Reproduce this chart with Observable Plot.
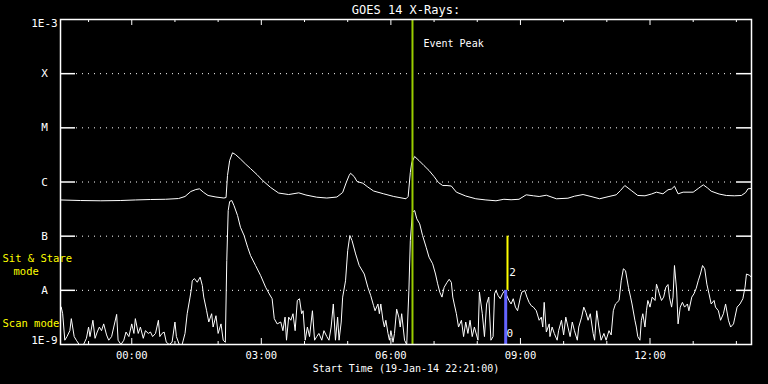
<!DOCTYPE html>
<html><head><meta charset="utf-8">
<script src="https://cdn.jsdelivr.net/npm/d3@7"></script>
<script src="https://cdn.jsdelivr.net/npm/@observablehq/plot@0.6"></script>
<style>
html,body{margin:0;padding:0;background:#000;}
#chart{width:768px;height:384px;overflow:hidden;}
</style></head><body><div id="chart"></div>
<script>
// ---------------- data ----------------
const title = "GOES 14 X-Rays:";
const xLabel = "Start Time (19-Jan-14 22:21:00)";
const startTime = "2014-01-19T22:21:00Z";
const spanMinutes = 960;
const decadeValues = [1e-9, 1e-8, 1e-7, 1e-6, 1e-5, 1e-4, 1e-3];
const decadeLabels = ["1E-9", "A", "B", "C", "M", "X", "1E-3"];
const gridValues = [1e-8, 1e-7, 1e-6, 1e-5, 1e-4];
const peakLabel = "Event Peak";
const peakMinute = 489;
const modeNames = ["Sit & Stare", "mode", "Scan mode"];
const modeMarkerLabels = ["0", "2"];          // scan (0), sit & stare (2)
const modeMarkerMinutes = [618.5, 621];
const modeMarkerLow = [1e-9, 1e-8];
const modeMarkerHigh = [1e-8, 1e-7];

// long channel (1-8 A), minutes after start, W/m^2
const longMin = [0,28,56,83,104,125,146,164,173,181,
188,193,199,205,216,227,230,232,235,239,
243,250,257,264,273,281,292,303,317,331,
341,356,370,384,392,397,401,403,408,412,
420,427,435,449,463,480,483,486,488,492,
498,505,512,519,525,531,537,543,550,563,
577,591,605,616,626,637,647,657,665,675,
689,705,714,726,737,749,762,772,778,784,
793,802,812,821,828,837,844,849,853,858,
865,879,886,893,899,904,915,925,936,946,
952,955,960];
const longFlux = [4.66e-7,4.55e-7,4.5e-7,4.55e-7,4.66e-7,4.75e-7,4.8e-7,4.95e-7,5.4e-7,6.67e-7,
7.26e-7,7.48e-7,6.4e-7,5.64e-7,5.28e-7,5.06e-7,5.17e-7,1.32e-6,2.49e-6,3.46e-6,
3.22e-6,2.66e-6,2.15e-6,1.77e-6,1.37e-6,1.06e-6,7.91e-7,6.26e-7,5.87e-7,6.31e-7,
5.75e-7,5.24e-7,5.06e-7,5.28e-7,6.4e-7,9.8e-7,1.32e-6,1.45e-6,1.26e-6,1.02e-6,
9.5e-7,8.07e-7,6.82e-7,6.05e-7,5.4e-7,4.9e-7,5.4e-7,1.5e-6,2.29e-6,2.96e-6,
2.49e-6,2.01e-6,1.63e-6,1.26e-6,9.8e-7,8.61e-7,8.61e-7,8.43e-7,6.49e-7,5.51e-7,
4.9e-7,4.66e-7,4.5e-7,4.8e-7,4.7e-7,4.8e-7,5.8e-7,5.56e-7,5.4e-7,5.7e-7,
4.9e-7,5.02e-7,5.47e-7,5.87e-7,5.4e-7,4.9e-7,5.4e-7,5.8e-7,6.97e-7,8.61e-7,
6.97e-7,5.64e-7,5.56e-7,6.0e-7,6.49e-7,6.05e-7,7.18e-7,7.43e-7,8.36e-7,6.05e-7,
6.49e-7,6.49e-7,7.59e-7,8.87e-7,7.74e-7,6.76e-7,6.0e-7,5.64e-7,5.56e-7,5.64e-7,
6.4e-7,7.48e-7,7.59e-7];

// short channel (0.5-4 A), minutes after start, W/m^2
const shortMin = [1,3,6,9,13,15,19,22,26,32,
36,39,41,45,48,51,54,57,60,64,
67,71,74,78,80,84,88,91,95,99,
102,104,108,111,115,118,122,125,128,132,
136,138,141,144,147,151,155,159,161,165,
169,173,176,180,182,183,186,190,194,197,
199,203,206,210,212,216,219,223,226,229,
231,233,235,238,241,246,250,255,260,264,
271,278,285,290,294,297,301,306,309,312,
314,317,320,323,326,329,332,335,337,340,
343,346,350,353,356,359,363,366,370,373,
376,379,382,385,387,390,392,396,399,402,
405,410,415,422,427,431,435,437,441,443,
445,448,450,452,455,457,459,462,464,467,
470,472,474,478,481,484,486,489,492,495,
499,503,508,512,517,521,524,527,530,533,
537,540,543,545,547,550,553,557,560,563,
566,569,572,575,580,582,586,589,592,595,
598,601,603,605,608,611,614,617,620,623,
626,629,632,635,639,641,645,648,651,654,
657,661,665,668,670,672,675,679,680,683,
686,690,692,696,699,702,705,708,711,714,
718,720,724,727,730,733,736,740,742,745,
748,751,755,758,762,765,768,771,776,779,
782,785,789,792,794,798,800,802,805,807,
809,812,814,816,819,822,826,828,830,832,
835,838,841,844,846,849,851,853,856,858,
861,864,867,871,873,877,880,883,886,889,
892,895,898,901,904,908,910,914,917,921,
924,928,931,935,937,940,944,948,951,953,
957,960];
const shortFlux = [4.9e-9,3.7e-9,1.2e-9,1.4e-9,1.8e-9,3.0e-9,1.4e-9,1.2e-9,1e-9,1e-9,
1.3e-9,2.1e-9,1.4e-9,2.8e-9,1.3e-9,1.7e-9,2.1e-9,1.8e-9,2.4e-9,1.5e-9,
1.2e-9,1.4e-9,2.1e-9,3.6e-9,1.2e-9,1e-9,1.2e-9,1.7e-9,1.4e-9,2.4e-9,
1.6e-9,3.0e-9,1.6e-9,2.1e-9,1.3e-9,1.8e-9,1.6e-9,1.7e-9,1.4e-9,1.6e-9,
2.8e-9,1.4e-9,1.6e-9,1.7e-9,1.1e-9,1e-9,1.1e-9,2.6e-9,1.4e-9,1e-9,
1e-9,1.6e-9,3.7e-9,7.5e-9,1.1e-8,1.5e-8,1.65e-8,1.41e-8,1.75e-8,1.23e-8,
7.5e-9,4.2e-9,2.6e-9,3.7e-9,2.1e-9,3.4e-9,1.6e-9,2.4e-9,1.2e-9,1.1e-9,
3.56e-8,2.97e-7,4.36e-7,4.55e-7,3.68e-7,2.4e-7,1.46e-7,1.03e-7,6.25e-8,4.4e-8,
2.87e-8,1.88e-8,1.14e-8,8.6e-9,7.0e-9,3.0e-9,2.4e-9,2.6e-9,1.8e-9,3.2e-9,
1.2e-9,3.2e-9,2.8e-9,3.7e-9,1.8e-9,6.5e-9,7.0e-9,3.7e-9,4.2e-9,1.2e-9,
2.1e-9,1.4e-9,4.2e-9,1.2e-9,1.4e-9,1.6e-9,1.2e-9,1.8e-9,1.4e-9,1.2e-9,
2.1e-9,5.6e-9,1.2e-9,3.2e-9,1.2e-9,2.6e-9,7.5e-9,1.5e-8,5.4e-8,1.03e-7,
8.3e-8,4.7e-8,2.87e-8,2.0e-8,1.14e-8,8.0e-9,5.2e-9,4.2e-9,5.6e-9,3.7e-9,
5.6e-9,2.8e-9,2.1e-9,2.8e-9,1.6e-9,1.2e-9,1.8e-9,1.1e-9,1.6e-9,4.5e-9,
3.2e-9,2.1e-9,3.7e-9,1.2e-9,1e-9,9.9e-9,8.3e-8,2.77e-7,2.97e-7,2.09e-7,
1.69e-7,1.03e-7,6.25e-8,4.09e-8,3.09e-8,2.0e-8,1.32e-8,9.2e-9,7.5e-9,1.14e-8,
1.4e-8,1.6e-8,1.4e-8,7.5e-9,5.6e-9,3.7e-9,2.1e-9,2.8e-9,1.4e-9,2.6e-9,
1.6e-9,2.8e-9,1.4e-9,2.1e-9,1.2e-9,9.3e-9,3.7e-9,1.4e-9,5.6e-9,7.5e-9,
1.2e-9,1.4e-9,8.6e-9,9.9e-9,8.0e-9,7.0e-9,8.6e-9,9.9e-9,8.0e-9,6.5e-9,
5.6e-9,7.0e-9,4.9e-9,4.2e-9,7.5e-9,9.3e-9,9.9e-9,7.5e-9,6.0e-9,5.2e-9,
4.9e-9,4.2e-9,2.8e-9,3.2e-9,2.1e-9,6.0e-9,1.7e-9,2.4e-9,1.4e-9,2.1e-9,
1.6e-9,1.2e-9,1.8e-9,2.8e-9,1.5e-9,3.2e-9,2.1e-9,1.4e-9,2.6e-9,1.8e-9,
1.2e-9,2.1e-9,3.2e-9,4.9e-9,3.9e-9,2.8e-9,3.7e-9,1.6e-9,1.2e-9,4.2e-9,
2.1e-9,1.2e-9,1.6e-9,1.2e-9,1.8e-9,1.5e-9,4.2e-9,5.6e-9,6.5e-9,1.5e-8,
2.5e-8,2.3e-8,1.14e-8,7.5e-9,5.6e-9,2.8e-9,2.1e-9,1.4e-9,1.2e-9,2.8e-9,
3.7e-9,2.1e-9,4.2e-9,6.5e-9,4.9e-9,7.5e-9,6.5e-9,1.3e-8,1.07e-8,8.6e-9,
6.5e-9,7.5e-9,1.14e-8,1.28e-8,7.5e-9,4.9e-9,7.5e-9,2.87e-8,9.9e-9,2.4e-9,
4.9e-9,6.0e-9,4.9e-9,5.6e-9,4.2e-9,7.5e-9,8.6e-9,1.07e-8,1.5e-8,2.0e-8,
2.87e-8,2.5e-8,1.3e-8,8.6e-9,5.6e-9,6.5e-9,4.9e-9,4.2e-9,2.8e-9,3.7e-9,
5.6e-9,2.8e-9,2.1e-9,2.4e-9,3.2e-9,4.9e-9,5.6e-9,7.0e-9,1.14e-8,2.0e-8,
1.9e-8,1.75e-8];

// ---------------- layout ----------------
const W = 768, H = 384, ML = 60, MR = 17, MT = 19, MB = 40;
const innerW = W - ML - MR, innerH = H - MT - MB;
const FONT = "'DejaVu Sans Mono', monospace";

const t0 = Date.parse(startTime);
const toDate = m => new Date(t0 + m * 60000);
const longData = longMin.map((m, i) => ({t: toDate(m), v: longFlux[i]}));
const shortData = shortMin.map((m, i) => ({t: toDate(m), v: shortFlux[i]}));
if (longMin.length !== longFlux.length || shortMin.length !== shortFlux.length) console.error("length mismatch");

const hours = d3.utcHour.range(toDate(0), toDate(spanMinutes + 1));
const majorHours = hours.filter(d => d.getUTCHours() % 3 === 0);
const minorHours = hours.filter(d => d.getUTCHours() % 3 !== 0);
const fmt = d3.utcFormat("%H:%M");
const peakDate = toDate(peakMinute);
const modeMarks = modeMarkerLabels.map((l, i) => ({label: l, t: toDate(modeMarkerMinutes[i]), lo: modeMarkerLow[i], hi: modeMarkerHigh[i]}));
const midDecades = decadeValues.slice(1, -1);
const midLabels = decadeLabels.slice(1, -1);
const LA = "middle";

const chart = Plot.plot({
  width: W, height: H,
  marginLeft: ML, marginRight: MR, marginTop: MT, marginBottom: MB,
  style: {background: "black", color: "white", fontFamily: FONT, fontSize: "10px"},
  x: {type: "utc", domain: [toDate(0), toDate(spanMinutes)], axis: null},
  y: {type: "log", domain: [decadeValues[0], decadeValues[decadeValues.length - 1]], axis: null},
  marks: [
    // dotted grid + solid end segments
    Plot.ruleY(gridValues, {y: d => d, stroke: "white", strokeWidth: 1, strokeDasharray: "1,5", insetLeft: 16, insetRight: 16}),
    Plot.tickY(gridValues, {y: d => d, stroke: "white", strokeWidth: 1.5, insetRight: innerW - 15}),
    Plot.tickY(gridValues, {y: d => d, stroke: "white", strokeWidth: 1.5, insetLeft: innerW - 15}),
    // time ticks (top and bottom, inward)
    Plot.tickX(minorHours, {x: d => d, stroke: "white", insetBottom: innerH - 3}),
    Plot.tickX(majorHours, {x: d => d, stroke: "white", insetBottom: innerH - 6}),
    Plot.tickX(minorHours, {x: d => d, stroke: "white", insetTop: innerH - 3}),
    Plot.tickX(majorHours, {x: d => d, stroke: "white", insetTop: innerH - 6}),
    // data
    Plot.line(longData, {x: "t", y: "v", stroke: "white", strokeWidth: 1, clip: true}),
    Plot.line(shortData, {x: "t", y: "v", stroke: "white", strokeWidth: 1, clip: true}),
    // event peak
    Plot.ruleX([peakDate], {x: d => d, stroke: "#99cc00", strokeWidth: 2}),
    Plot.text([peakLabel], {x: () => peakDate, frameAnchor: "top", lineAnchor: LA, dy: 24, dx: 11, textAnchor: "start", text: d => d, fill: "white", fontSize: 10}),
    // mode markers
    Plot.ruleX([modeMarks[0]], {x: "t", y1: "lo", y2: "hi", stroke: "#6464ff", strokeWidth: 3}),
    Plot.ruleX([modeMarks[1]], {x: "t", y1: "lo", y2: "hi", stroke: "#ffff00", strokeWidth: 2}),
    Plot.text([modeMarks[0]], {x: "t", y: () => 1.63e-9, dx: 4, text: "label", fill: "white", fontSize: 11}),
    Plot.text([modeMarks[1]], {x: "t", y: () => 2.15e-8, dx: 5, text: "label", fill: "white", fontSize: 11}),
    // frame
    Plot.frame({stroke: "white", strokeWidth: 1.5}),
    // y labels
    Plot.text(midDecades, {y: d => d, frameAnchor: "left", lineAnchor: LA, dx: -16, textAnchor: "middle", text: (d, i) => midLabels[i], fill: "white", fontSize: 11}),
    Plot.text([decadeValues[decadeValues.length - 1]], {y: d => d, frameAnchor: "left", lineAnchor: LA, dx: -16, dy: 4, textAnchor: "middle", text: () => decadeLabels[decadeLabels.length - 1], fill: "white", fontSize: 11}),
    Plot.text([decadeValues[0]], {y: d => d, frameAnchor: "left", lineAnchor: LA, dx: -16, dy: -4, textAnchor: "middle", text: () => decadeLabels[0], fill: "white", fontSize: 11}),
    // x labels
    Plot.text(majorHours, {x: d => d, frameAnchor: "bottom", lineAnchor: LA, dy: 11, text: d => fmt(d), fill: "white", fontSize: 10.5}),
    Plot.text([xLabel], {frameAnchor: "bottom", lineAnchor: LA, dy: 24, text: d => d, fill: "white", fontSize: 10}),
    Plot.text([title], {frameAnchor: "top", lineAnchor: LA, dy: -9.5, text: d => d, fill: "white", fontSize: 12}),
    // mode names (yellow)
    Plot.text([modeNames[0]], {frameAnchor: "bottom-left", lineAnchor: LA, dx: -58, dy: -86, textAnchor: "start", text: d => d, fill: "#ffff00", fontSize: 10.5}),
    Plot.text([modeNames[1]], {frameAnchor: "bottom-left", lineAnchor: LA, dx: -47, dy: -73, textAnchor: "start", text: d => d, fill: "#ffff00", fontSize: 10.5}),
    Plot.text([modeNames[2]], {frameAnchor: "bottom-left", lineAnchor: LA, dx: -58, dy: -20.5, textAnchor: "start", text: d => d, fill: "#ffff00", fontSize: 10.5})
  ]
});
document.getElementById("chart").appendChild(chart);
</script>
</body></html>
